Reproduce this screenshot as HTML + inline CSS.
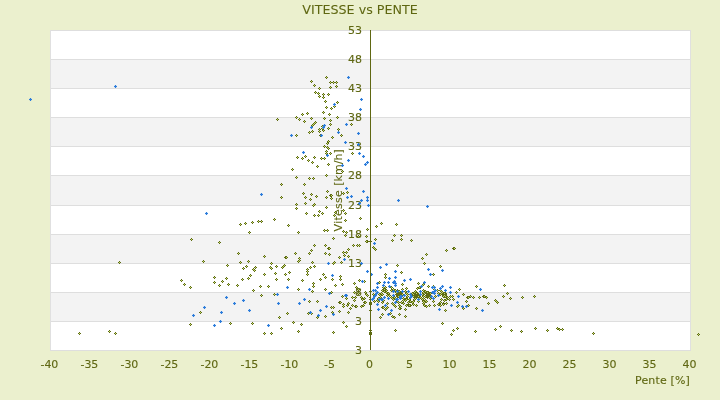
<!DOCTYPE html>
<html><head><meta charset="utf-8"><title>VITESSE vs PENTE</title>
<style>
html,body{margin:0;padding:0;background:#ebf0ce;}
body{width:720px;height:400px;overflow:hidden;}
svg{display:block;font-family:"DejaVu Sans","Liberation Sans",sans-serif;will-change:transform;}
.t{fill:#5f6712;stroke:#5f6712;stroke-width:.12px;}
</style></head><body>
<svg width="720" height="400" viewBox="0 0 720 400">
<defs>
<g id="o" shape-rendering="crispEdges"><path d="M-.5-1.5h1v1h1v1h-1v1h-1v-1h-1v-1h1z" fill="#5e6b12"/><rect x="-.5" y="-.5" width="1" height="1" fill="#c2d672"/></g>
<g id="b" shape-rendering="crispEdges"><path d="M-.5-1.5h1v1h1v1h-1v1h-1v-1h-1v-1h1z" fill="#2b7cdb"/><path d="M-1.5-1.5h1v1h-1zM.5-1.5h1v1h-1zM-1.5.5h1v1h-1zM.5.5h1v1h-1z" fill="#2b7cdb" fill-opacity=".12"/></g>
</defs>
<rect width="720" height="400" fill="#ebf0ce"/>

<rect x="50" y="30" width="641" height="321" fill="#ffffff"/>
<rect x="50" y="59" width="641" height="29" fill="#f3f3f3"/>
<rect x="50" y="117" width="641" height="29" fill="#f3f3f3"/>
<rect x="50" y="175" width="641" height="30" fill="#f3f3f3"/>
<rect x="50" y="234" width="641" height="29" fill="#f3f3f3"/>
<rect x="50" y="292" width="641" height="29" fill="#f3f3f3"/>
<rect x="50" y="30" width="641" height="1" fill="#dedede"/>
<rect x="50" y="59" width="641" height="1" fill="#dedede"/>
<rect x="50" y="88" width="641" height="1" fill="#dedede"/>
<rect x="50" y="117" width="641" height="1" fill="#dedede"/>
<rect x="50" y="146" width="641" height="1" fill="#dedede"/>
<rect x="50" y="175" width="641" height="1" fill="#dedede"/>
<rect x="50" y="205" width="641" height="1" fill="#dedede"/>
<rect x="50" y="234" width="641" height="1" fill="#dedede"/>
<rect x="50" y="263" width="641" height="1" fill="#dedede"/>
<rect x="50" y="292" width="641" height="1" fill="#dedede"/>
<rect x="50" y="321" width="641" height="1" fill="#dedede"/>
<rect x="50" y="350" width="641" height="1" fill="#dedede"/>
<rect x="50" y="30" width="1" height="320" fill="#e0e0e0"/>
<rect x="690" y="30" width="1" height="320" fill="#e0e0e0"/>
<g class="t" font-size="11" text-anchor="end">
<text x="362" y="34">53</text>
<text x="362" y="63">48</text>
<text x="362" y="92">43</text>
<text x="362" y="121">38</text>
<text x="362" y="150">33</text>
<text x="362" y="179">28</text>
<text x="362" y="209">23</text>
<text x="362" y="238">18</text>
<text x="362" y="267">13</text>
<text x="362" y="296">8</text>
<text x="362" y="325">3</text>
<text x="362" y="354">3</text>
</g>
<text class="t" font-size="11" transform="translate(342,231.4) rotate(-90)"><tspan x="0" textLength="41.3" lengthAdjust="spacing">Vitesse</tspan> <tspan x="45.6" textLength="36.6" lengthAdjust="spacing">[km/h]</tspan></text>
<g class="t" font-size="11" text-anchor="middle">
<text x="49.4" y="368">-40</text>
<text x="89.4" y="368">-35</text>
<text x="129.4" y="368">-30</text>
<text x="169.4" y="368">-25</text>
<text x="209.4" y="368">-20</text>
<text x="249.4" y="368">-15</text>
<text x="289.4" y="368">-10</text>
<text x="329.4" y="368">-5</text>
<text x="369.4" y="368">0</text>
<text x="409.4" y="368">5</text>
<text x="449.4" y="368">10</text>
<text x="489.4" y="368">15</text>
<text x="529.4" y="368">20</text>
<text x="569.4" y="368">25</text>
<text x="609.4" y="368">30</text>
<text x="649.4" y="368">35</text>
<text x="689.4" y="368">40</text>
</g>
<text class="t" font-size="11" text-anchor="end" textLength="54.8" lengthAdjust="spacing" x="689.8" y="384">Pente [%]</text>
<text class="t" style="stroke-width:.06px" font-size="12.7" text-anchor="middle" x="360" y="14">VITESSE vs PENTE</text>
<g>
<use href="#o" x="119.5" y="262.5"/>
<use href="#o" x="191.5" y="239.5"/>
<use href="#o" x="181.5" y="280.5"/>
<use href="#o" x="184.5" y="284.5"/>
<use href="#o" x="190.5" y="287.5"/>
<use href="#o" x="190.5" y="324.5"/>
<use href="#o" x="79.5" y="333.5"/>
<use href="#o" x="109.5" y="331.5"/>
<use href="#o" x="115.5" y="333.5"/>
<use href="#o" x="200.5" y="312.5"/>
<use href="#o" x="277.5" y="119.5"/>
<use href="#o" x="326.5" y="77.5"/>
<use href="#o" x="311.5" y="81.5"/>
<use href="#o" x="314.5" y="85.5"/>
<use href="#o" x="319.5" y="88.5"/>
<use href="#o" x="330.5" y="82.5"/>
<use href="#o" x="333.5" y="82.5"/>
<use href="#o" x="336.5" y="82.5"/>
<use href="#o" x="330.5" y="87.5"/>
<use href="#o" x="336.5" y="86.5"/>
<use href="#o" x="315.5" y="92.5"/>
<use href="#o" x="318.5" y="93.5"/>
<use href="#o" x="319.5" y="96.5"/>
<use href="#o" x="323.5" y="94.5"/>
<use href="#o" x="323.5" y="97.5"/>
<use href="#o" x="328.5" y="94.5"/>
<use href="#o" x="325.5" y="101.5"/>
<use href="#o" x="337.5" y="102.5"/>
<use href="#o" x="334.5" y="106.5"/>
<use href="#o" x="331.5" y="108.5"/>
<use href="#o" x="326.5" y="107.5"/>
<use href="#o" x="323.5" y="112.5"/>
<use href="#o" x="329.5" y="114.5"/>
<use href="#o" x="307.5" y="113.5"/>
<use href="#o" x="302.5" y="114.5"/>
<use href="#o" x="296.5" y="117.5"/>
<use href="#o" x="299.5" y="119.5"/>
<use href="#o" x="311.5" y="118.5"/>
<use href="#o" x="324.5" y="118.5"/>
<use href="#o" x="337.5" y="117.5"/>
<use href="#o" x="330.5" y="120.5"/>
<use href="#o" x="304.5" y="121.5"/>
<use href="#o" x="330.5" y="124.5"/>
<use href="#o" x="315.5" y="122.5"/>
<use href="#o" x="314.5" y="123.5"/>
<use href="#o" x="313.5" y="124.5"/>
<use href="#o" x="312.5" y="125.5"/>
<use href="#o" x="351.5" y="124.5"/>
<use href="#o" x="328.5" y="128.5"/>
<use href="#o" x="322.5" y="126.5"/>
<use href="#o" x="322.5" y="128.5"/>
<use href="#o" x="319.5" y="129.5"/>
<use href="#o" x="323.5" y="130.5"/>
<use href="#o" x="319.5" y="131.5"/>
<use href="#o" x="312.5" y="131.5"/>
<use href="#o" x="309.5" y="132.5"/>
<use href="#o" x="338.5" y="129.5"/>
<use href="#o" x="296.5" y="135.5"/>
<use href="#o" x="320.5" y="135.5"/>
<use href="#o" x="341.5" y="135.5"/>
<use href="#o" x="332.5" y="137.5"/>
<use href="#o" x="328.5" y="141.5"/>
<use href="#o" x="327.5" y="143.5"/>
<use href="#o" x="324.5" y="146.5"/>
<use href="#o" x="327.5" y="147.5"/>
<use href="#o" x="328.5" y="148.5"/>
<use href="#o" x="326.5" y="151.5"/>
<use href="#o" x="326.5" y="153.5"/>
<use href="#o" x="330.5" y="153.5"/>
<use href="#o" x="352.5" y="153.5"/>
<use href="#o" x="297.5" y="157.5"/>
<use href="#o" x="302.5" y="158.5"/>
<use href="#o" x="305.5" y="156.5"/>
<use href="#o" x="308.5" y="160.5"/>
<use href="#o" x="312.5" y="162.5"/>
<use href="#o" x="314.5" y="157.5"/>
<use href="#o" x="321.5" y="158.5"/>
<use href="#o" x="324.5" y="158.5"/>
<use href="#o" x="328.5" y="164.5"/>
<use href="#o" x="317.5" y="166.5"/>
<use href="#o" x="292.5" y="169.5"/>
<use href="#o" x="342.5" y="171.5"/>
<use href="#o" x="326.5" y="175.5"/>
<use href="#o" x="296.5" y="177.5"/>
<use href="#o" x="309.5" y="178.5"/>
<use href="#o" x="313.5" y="178.5"/>
<use href="#o" x="281.5" y="184.5"/>
<use href="#o" x="304.5" y="184.5"/>
<use href="#o" x="327.5" y="191.5"/>
<use href="#o" x="303.5" y="193.5"/>
<use href="#o" x="311.5" y="194.5"/>
<use href="#o" x="343.5" y="193.5"/>
<use href="#o" x="347.5" y="192.5"/>
<use href="#o" x="281.5" y="197.5"/>
<use href="#o" x="305.5" y="197.5"/>
<use href="#o" x="316.5" y="196.5"/>
<use href="#o" x="326.5" y="197.5"/>
<use href="#o" x="330.5" y="195.5"/>
<use href="#o" x="331.5" y="195.5"/>
<use href="#o" x="331.5" y="198.5"/>
<use href="#o" x="310.5" y="199.5"/>
<use href="#o" x="305.5" y="203.5"/>
<use href="#o" x="296.5" y="204.5"/>
<use href="#o" x="314.5" y="204.5"/>
<use href="#o" x="313.5" y="205.5"/>
<use href="#o" x="296.5" y="208.5"/>
<use href="#o" x="326.5" y="207.5"/>
<use href="#o" x="343.5" y="210.5"/>
<use href="#o" x="306.5" y="213.5"/>
<use href="#o" x="319.5" y="211.5"/>
<use href="#o" x="322.5" y="213.5"/>
<use href="#o" x="314.5" y="215.5"/>
<use href="#o" x="318.5" y="215.5"/>
<use href="#o" x="335.5" y="212.5"/>
<use href="#o" x="334.5" y="215.5"/>
<use href="#o" x="345.5" y="213.5"/>
<use href="#o" x="345.5" y="220.5"/>
<use href="#o" x="360.5" y="218.5"/>
<use href="#o" x="288.5" y="225.5"/>
<use href="#o" x="298.5" y="232.5"/>
<use href="#o" x="324.5" y="230.5"/>
<use href="#o" x="327.5" y="230.5"/>
<use href="#o" x="343.5" y="231.5"/>
<use href="#o" x="346.5" y="232.5"/>
<use href="#o" x="345.5" y="235.5"/>
<use href="#o" x="367.5" y="229.5"/>
<use href="#o" x="366.5" y="236.5"/>
<use href="#o" x="358.5" y="236.5"/>
<use href="#o" x="333.5" y="238.5"/>
<use href="#o" x="367.5" y="241.5"/>
<use href="#o" x="366.5" y="241.5"/>
<use href="#o" x="314.5" y="245.5"/>
<use href="#o" x="325.5" y="245.5"/>
<use href="#o" x="328.5" y="248.5"/>
<use href="#o" x="329.5" y="248.5"/>
<use href="#o" x="353.5" y="245.5"/>
<use href="#o" x="357.5" y="245.5"/>
<use href="#o" x="359.5" y="245.5"/>
<use href="#o" x="348.5" y="249.5"/>
<use href="#o" x="311.5" y="250.5"/>
<use href="#o" x="309.5" y="253.5"/>
<use href="#o" x="295.5" y="253.5"/>
<use href="#o" x="325.5" y="253.5"/>
<use href="#o" x="329.5" y="254.5"/>
<use href="#o" x="343.5" y="252.5"/>
<use href="#o" x="346.5" y="252.5"/>
<use href="#o" x="344.5" y="255.5"/>
<use href="#o" x="348.5" y="256.5"/>
<use href="#o" x="339.5" y="257.5"/>
<use href="#o" x="285.5" y="257.5"/>
<use href="#o" x="286.5" y="257.5"/>
<use href="#o" x="299.5" y="258.5"/>
<use href="#o" x="299.5" y="260.5"/>
<use href="#o" x="298.5" y="261.5"/>
<use href="#o" x="312.5" y="262.5"/>
<use href="#o" x="334.5" y="262.5"/>
<use href="#o" x="333.5" y="263.5"/>
<use href="#o" x="341.5" y="262.5"/>
<use href="#o" x="284.5" y="265.5"/>
<use href="#o" x="283.5" y="266.5"/>
<use href="#o" x="282.5" y="267.5"/>
<use href="#o" x="314.5" y="266.5"/>
<use href="#o" x="310.5" y="267.5"/>
<use href="#o" x="307.5" y="269.5"/>
<use href="#o" x="307.5" y="271.5"/>
<use href="#o" x="307.5" y="274.5"/>
<use href="#o" x="289.5" y="272.5"/>
<use href="#o" x="285.5" y="274.5"/>
<use href="#o" x="323.5" y="274.5"/>
<use href="#o" x="325.5" y="277.5"/>
<use href="#o" x="320.5" y="279.5"/>
<use href="#o" x="288.5" y="279.5"/>
<use href="#o" x="302.5" y="280.5"/>
<use href="#o" x="332.5" y="279.5"/>
<use href="#o" x="340.5" y="276.5"/>
<use href="#o" x="340.5" y="279.5"/>
<use href="#o" x="359.5" y="280.5"/>
<use href="#o" x="364.5" y="281.5"/>
<use href="#o" x="354.5" y="283.5"/>
<use href="#o" x="342.5" y="284.5"/>
<use href="#o" x="335.5" y="285.5"/>
<use href="#o" x="313.5" y="283.5"/>
<use href="#o" x="313.5" y="286.5"/>
<use href="#o" x="356.5" y="287.5"/>
<use href="#o" x="298.5" y="289.5"/>
<use href="#o" x="312.5" y="291.5"/>
<use href="#o" x="325.5" y="289.5"/>
<use href="#o" x="331.5" y="292.5"/>
<use href="#o" x="358.5" y="289.5"/>
<use href="#o" x="358.5" y="293.5"/>
<use href="#o" x="354.5" y="292.5"/>
<use href="#o" x="365.5" y="292.5"/>
<use href="#o" x="366.5" y="294.5"/>
<use href="#o" x="342.5" y="296.5"/>
<use href="#o" x="352.5" y="297.5"/>
<use href="#o" x="355.5" y="297.5"/>
<use href="#o" x="361.5" y="297.5"/>
<use href="#o" x="346.5" y="298.5"/>
<use href="#o" x="364.5" y="298.5"/>
<use href="#o" x="354.5" y="300.5"/>
<use href="#o" x="362.5" y="299.5"/>
<use href="#o" x="309.5" y="301.5"/>
<use href="#o" x="317.5" y="301.5"/>
<use href="#o" x="339.5" y="302.5"/>
<use href="#o" x="340.5" y="302.5"/>
<use href="#o" x="343.5" y="304.5"/>
<use href="#o" x="343.5" y="306.5"/>
<use href="#o" x="348.5" y="303.5"/>
<use href="#o" x="347.5" y="305.5"/>
<use href="#o" x="352.5" y="305.5"/>
<use href="#o" x="355.5" y="306.5"/>
<use href="#o" x="356.5" y="306.5"/>
<use href="#o" x="361.5" y="306.5"/>
<use href="#o" x="363.5" y="305.5"/>
<use href="#o" x="364.5" y="302.5"/>
<use href="#o" x="365.5" y="302.5"/>
<use href="#o" x="331.5" y="307.5"/>
<use href="#o" x="333.5" y="307.5"/>
<use href="#o" x="350.5" y="308.5"/>
<use href="#o" x="339.5" y="311.5"/>
<use href="#o" x="348.5" y="312.5"/>
<use href="#o" x="287.5" y="313.5"/>
<use href="#o" x="308.5" y="313.5"/>
<use href="#o" x="311.5" y="313.5"/>
<use href="#o" x="332.5" y="312.5"/>
<use href="#o" x="325.5" y="316.5"/>
<use href="#o" x="317.5" y="317.5"/>
<use href="#o" x="279.5" y="317.5"/>
<use href="#o" x="293.5" y="322.5"/>
<use href="#o" x="301.5" y="324.5"/>
<use href="#o" x="281.5" y="328.5"/>
<use href="#o" x="298.5" y="331.5"/>
<use href="#o" x="333.5" y="332.5"/>
<use href="#o" x="343.5" y="322.5"/>
<use href="#o" x="346.5" y="326.5"/>
<use href="#o" x="230.5" y="323.5"/>
<use href="#o" x="252.5" y="323.5"/>
<use href="#o" x="264.5" y="333.5"/>
<use href="#o" x="271.5" y="333.5"/>
<use href="#o" x="274.5" y="219.5"/>
<use href="#o" x="240.5" y="224.5"/>
<use href="#o" x="245.5" y="223.5"/>
<use href="#o" x="252.5" y="222.5"/>
<use href="#o" x="258.5" y="221.5"/>
<use href="#o" x="261.5" y="221.5"/>
<use href="#o" x="249.5" y="232.5"/>
<use href="#o" x="219.5" y="242.5"/>
<use href="#o" x="238.5" y="253.5"/>
<use href="#o" x="264.5" y="256.5"/>
<use href="#o" x="203.5" y="261.5"/>
<use href="#o" x="240.5" y="262.5"/>
<use href="#o" x="248.5" y="261.5"/>
<use href="#o" x="271.5" y="263.5"/>
<use href="#o" x="227.5" y="265.5"/>
<use href="#o" x="246.5" y="266.5"/>
<use href="#o" x="243.5" y="268.5"/>
<use href="#o" x="255.5" y="267.5"/>
<use href="#o" x="253.5" y="269.5"/>
<use href="#o" x="254.5" y="270.5"/>
<use href="#o" x="270.5" y="267.5"/>
<use href="#o" x="271.5" y="268.5"/>
<use href="#o" x="276.5" y="266.5"/>
<use href="#o" x="275.5" y="273.5"/>
<use href="#o" x="264.5" y="274.5"/>
<use href="#o" x="250.5" y="275.5"/>
<use href="#o" x="214.5" y="277.5"/>
<use href="#o" x="226.5" y="278.5"/>
<use href="#o" x="248.5" y="278.5"/>
<use href="#o" x="242.5" y="279.5"/>
<use href="#o" x="276.5" y="279.5"/>
<use href="#o" x="222.5" y="281.5"/>
<use href="#o" x="214.5" y="282.5"/>
<use href="#o" x="228.5" y="284.5"/>
<use href="#o" x="219.5" y="285.5"/>
<use href="#o" x="237.5" y="285.5"/>
<use href="#o" x="260.5" y="286.5"/>
<use href="#o" x="268.5" y="286.5"/>
<use href="#o" x="253.5" y="290.5"/>
<use href="#o" x="261.5" y="295.5"/>
<use href="#o" x="274.5" y="294.5"/>
<use href="#o" x="376.5" y="226.5"/>
<use href="#o" x="381.5" y="223.5"/>
<use href="#o" x="396.5" y="224.5"/>
<use href="#o" x="375.5" y="239.5"/>
<use href="#o" x="394.5" y="235.5"/>
<use href="#o" x="401.5" y="235.5"/>
<use href="#o" x="392.5" y="240.5"/>
<use href="#o" x="401.5" y="239.5"/>
<use href="#o" x="411.5" y="240.5"/>
<use href="#o" x="373.5" y="247.5"/>
<use href="#o" x="374.5" y="248.5"/>
<use href="#o" x="375.5" y="249.5"/>
<use href="#o" x="446.5" y="250.5"/>
<use href="#o" x="453.5" y="248.5"/>
<use href="#o" x="454.5" y="248.5"/>
<use href="#o" x="426.5" y="254.5"/>
<use href="#o" x="422.5" y="258.5"/>
<use href="#o" x="424.5" y="263.5"/>
<use href="#o" x="397.5" y="265.5"/>
<use href="#o" x="440.5" y="266.5"/>
<use href="#o" x="401.5" y="272.5"/>
<use href="#o" x="385.5" y="274.5"/>
<use href="#o" x="385.5" y="277.5"/>
<use href="#o" x="433.5" y="274.5"/>
<use href="#o" x="370.5" y="241.5"/>
<use href="#o" x="370.5" y="291.5"/>
<use href="#o" x="370.5" y="299.5"/>
<use href="#o" x="370.5" y="303.5"/>
<use href="#o" x="370.5" y="310.5"/>
<use href="#o" x="370.5" y="330.5"/>
<use href="#o" x="366.5" y="294.5"/>
<use href="#o" x="367.5" y="295.5"/>
<use href="#o" x="373.5" y="294.5"/>
<use href="#o" x="376.5" y="291.5"/>
<use href="#o" x="379.5" y="294.5"/>
<use href="#o" x="380.5" y="295.5"/>
<use href="#o" x="381.5" y="293.5"/>
<use href="#o" x="382.5" y="294.5"/>
<use href="#o" x="380.5" y="297.5"/>
<use href="#o" x="378.5" y="298.5"/>
<use href="#o" x="377.5" y="300.5"/>
<use href="#o" x="378.5" y="301.5"/>
<use href="#o" x="374.5" y="301.5"/>
<use href="#o" x="382.5" y="302.5"/>
<use href="#o" x="383.5" y="300.5"/>
<use href="#o" x="383.5" y="287.5"/>
<use href="#o" x="384.5" y="289.5"/>
<use href="#o" x="382.5" y="290.5"/>
<use href="#o" x="384.5" y="291.5"/>
<use href="#o" x="386.5" y="290.5"/>
<use href="#o" x="385.5" y="287.5"/>
<use href="#o" x="386.5" y="292.5"/>
<use href="#o" x="388.5" y="293.5"/>
<use href="#o" x="387.5" y="295.5"/>
<use href="#o" x="389.5" y="295.5"/>
<use href="#o" x="391.5" y="287.5"/>
<use href="#o" x="391.5" y="290.5"/>
<use href="#o" x="393.5" y="289.5"/>
<use href="#o" x="391.5" y="297.5"/>
<use href="#o" x="392.5" y="298.5"/>
<use href="#o" x="393.5" y="299.5"/>
<use href="#o" x="394.5" y="297.5"/>
<use href="#o" x="395.5" y="298.5"/>
<use href="#o" x="387.5" y="303.5"/>
<use href="#o" x="392.5" y="303.5"/>
<use href="#o" x="395.5" y="290.5"/>
<use href="#o" x="379.5" y="282.5"/>
<use href="#o" x="402.5" y="284.5"/>
<use href="#o" x="423.5" y="284.5"/>
<use href="#o" x="422.5" y="285.5"/>
<use href="#o" x="406.5" y="288.5"/>
<use href="#o" x="402.5" y="289.5"/>
<use href="#o" x="417.5" y="288.5"/>
<use href="#o" x="420.5" y="287.5"/>
<use href="#o" x="419.5" y="287.5"/>
<use href="#o" x="397.5" y="290.5"/>
<use href="#o" x="399.5" y="291.5"/>
<use href="#o" x="396.5" y="292.5"/>
<use href="#o" x="398.5" y="293.5"/>
<use href="#o" x="405.5" y="291.5"/>
<use href="#o" x="406.5" y="293.5"/>
<use href="#o" x="402.5" y="294.5"/>
<use href="#o" x="397.5" y="296.5"/>
<use href="#o" x="399.5" y="297.5"/>
<use href="#o" x="403.5" y="298.5"/>
<use href="#o" x="405.5" y="299.5"/>
<use href="#o" x="403.5" y="300.5"/>
<use href="#o" x="406.5" y="298.5"/>
<use href="#o" x="407.5" y="296.5"/>
<use href="#o" x="407.5" y="294.5"/>
<use href="#o" x="409.5" y="299.5"/>
<use href="#o" x="410.5" y="301.5"/>
<use href="#o" x="408.5" y="302.5"/>
<use href="#o" x="412.5" y="302.5"/>
<use href="#o" x="413.5" y="301.5"/>
<use href="#o" x="411.5" y="295.5"/>
<use href="#o" x="412.5" y="293.5"/>
<use href="#o" x="413.5" y="294.5"/>
<use href="#o" x="413.5" y="296.5"/>
<use href="#o" x="414.5" y="292.5"/>
<use href="#o" x="415.5" y="291.5"/>
<use href="#o" x="416.5" y="293.5"/>
<use href="#o" x="418.5" y="296.5"/>
<use href="#o" x="415.5" y="298.5"/>
<use href="#o" x="419.5" y="298.5"/>
<use href="#o" x="420.5" y="297.5"/>
<use href="#o" x="422.5" y="294.5"/>
<use href="#o" x="423.5" y="292.5"/>
<use href="#o" x="424.5" y="293.5"/>
<use href="#o" x="423.5" y="290.5"/>
<use href="#o" x="425.5" y="291.5"/>
<use href="#o" x="423.5" y="296.5"/>
<use href="#o" x="423.5" y="298.5"/>
<use href="#o" x="421.5" y="298.5"/>
<use href="#o" x="422.5" y="299.5"/>
<use href="#o" x="425.5" y="296.5"/>
<use href="#o" x="423.5" y="301.5"/>
<use href="#o" x="424.5" y="302.5"/>
<use href="#o" x="425.5" y="300.5"/>
<use href="#o" x="397.5" y="301.5"/>
<use href="#o" x="398.5" y="302.5"/>
<use href="#o" x="401.5" y="302.5"/>
<use href="#o" x="403.5" y="303.5"/>
<use href="#o" x="396.5" y="299.5"/>
<use href="#o" x="418.5" y="301.5"/>
<use href="#o" x="418.5" y="283.5"/>
<use href="#o" x="428.5" y="286.5"/>
<use href="#o" x="433.5" y="286.5"/>
<use href="#o" x="434.5" y="289.5"/>
<use href="#o" x="437.5" y="290.5"/>
<use href="#o" x="440.5" y="290.5"/>
<use href="#o" x="441.5" y="291.5"/>
<use href="#o" x="442.5" y="292.5"/>
<use href="#o" x="445.5" y="293.5"/>
<use href="#o" x="427.5" y="292.5"/>
<use href="#o" x="428.5" y="294.5"/>
<use href="#o" x="427.5" y="295.5"/>
<use href="#o" x="430.5" y="293.5"/>
<use href="#o" x="429.5" y="297.5"/>
<use href="#o" x="430.5" y="298.5"/>
<use href="#o" x="438.5" y="293.5"/>
<use href="#o" x="440.5" y="294.5"/>
<use href="#o" x="435.5" y="296.5"/>
<use href="#o" x="444.5" y="295.5"/>
<use href="#o" x="443.5" y="296.5"/>
<use href="#o" x="445.5" y="296.5"/>
<use href="#o" x="447.5" y="297.5"/>
<use href="#o" x="450.5" y="296.5"/>
<use href="#o" x="452.5" y="296.5"/>
<use href="#o" x="441.5" y="299.5"/>
<use href="#o" x="444.5" y="300.5"/>
<use href="#o" x="446.5" y="299.5"/>
<use href="#o" x="449.5" y="299.5"/>
<use href="#o" x="453.5" y="299.5"/>
<use href="#o" x="426.5" y="301.5"/>
<use href="#o" x="433.5" y="301.5"/>
<use href="#o" x="440.5" y="302.5"/>
<use href="#o" x="446.5" y="303.5"/>
<use href="#o" x="443.5" y="303.5"/>
<use href="#o" x="426.5" y="293.5"/>
<use href="#o" x="427.5" y="294.5"/>
<use href="#o" x="426.5" y="295.5"/>
<use href="#o" x="428.5" y="296.5"/>
<use href="#o" x="427.5" y="297.5"/>
<use href="#o" x="428.5" y="293.5"/>
<use href="#o" x="429.5" y="295.5"/>
<use href="#o" x="442.5" y="294.5"/>
<use href="#o" x="443.5" y="294.5"/>
<use href="#o" x="444.5" y="293.5"/>
<use href="#o" x="441.5" y="293.5"/>
<use href="#o" x="476.5" y="286.5"/>
<use href="#o" x="504.5" y="285.5"/>
<use href="#o" x="459.5" y="289.5"/>
<use href="#o" x="456.5" y="292.5"/>
<use href="#o" x="463.5" y="294.5"/>
<use href="#o" x="507.5" y="293.5"/>
<use href="#o" x="467.5" y="297.5"/>
<use href="#o" x="468.5" y="297.5"/>
<use href="#o" x="470.5" y="296.5"/>
<use href="#o" x="473.5" y="297.5"/>
<use href="#o" x="479.5" y="297.5"/>
<use href="#o" x="483.5" y="296.5"/>
<use href="#o" x="484.5" y="296.5"/>
<use href="#o" x="486.5" y="297.5"/>
<use href="#o" x="503.5" y="296.5"/>
<use href="#o" x="510.5" y="298.5"/>
<use href="#o" x="522.5" y="297.5"/>
<use href="#o" x="534.5" y="296.5"/>
<use href="#o" x="466.5" y="301.5"/>
<use href="#o" x="495.5" y="300.5"/>
<use href="#o" x="496.5" y="301.5"/>
<use href="#o" x="497.5" y="302.5"/>
<use href="#o" x="488.5" y="303.5"/>
<use href="#o" x="458.5" y="305.5"/>
<use href="#o" x="457.5" y="306.5"/>
<use href="#o" x="468.5" y="305.5"/>
<use href="#o" x="463.5" y="308.5"/>
<use href="#o" x="476.5" y="308.5"/>
<use href="#o" x="382.5" y="307.5"/>
<use href="#o" x="383.5" y="307.5"/>
<use href="#o" x="387.5" y="307.5"/>
<use href="#o" x="385.5" y="309.5"/>
<use href="#o" x="400.5" y="306.5"/>
<use href="#o" x="400.5" y="308.5"/>
<use href="#o" x="405.5" y="309.5"/>
<use href="#o" x="406.5" y="305.5"/>
<use href="#o" x="408.5" y="304.5"/>
<use href="#o" x="410.5" y="305.5"/>
<use href="#o" x="416.5" y="305.5"/>
<use href="#o" x="426.5" y="306.5"/>
<use href="#o" x="429.5" y="305.5"/>
<use href="#o" x="434.5" y="305.5"/>
<use href="#o" x="439.5" y="304.5"/>
<use href="#o" x="443.5" y="304.5"/>
<use href="#o" x="445.5" y="310.5"/>
<use href="#o" x="382.5" y="314.5"/>
<use href="#o" x="380.5" y="317.5"/>
<use href="#o" x="390.5" y="313.5"/>
<use href="#o" x="392.5" y="316.5"/>
<use href="#o" x="394.5" y="317.5"/>
<use href="#o" x="399.5" y="314.5"/>
<use href="#o" x="405.5" y="316.5"/>
<use href="#o" x="442.5" y="323.5"/>
<use href="#o" x="395.5" y="330.5"/>
<use href="#o" x="453.5" y="330.5"/>
<use href="#o" x="451.5" y="334.5"/>
<use href="#o" x="457.5" y="328.5"/>
<use href="#o" x="475.5" y="331.5"/>
<use href="#o" x="495.5" y="329.5"/>
<use href="#o" x="500.5" y="326.5"/>
<use href="#o" x="511.5" y="330.5"/>
<use href="#o" x="521.5" y="331.5"/>
<use href="#o" x="535.5" y="328.5"/>
<use href="#o" x="547.5" y="330.5"/>
<use href="#o" x="557.5" y="328.5"/>
<use href="#o" x="559.5" y="329.5"/>
<use href="#o" x="562.5" y="329.5"/>
<use href="#o" x="593.5" y="333.5"/>
<use href="#o" x="698.5" y="334.5"/>
<use href="#o" x="393.5" y="304.5"/>
<use href="#o" x="394.5" y="305.5"/>
<use href="#o" x="395.5" y="306.5"/>
<use href="#o" x="399.5" y="305.5"/>
<use href="#o" x="399.5" y="308.5"/>
<use href="#o" x="386.5" y="308.5"/>
<use href="#o" x="405.5" y="300.5"/>
<use href="#o" x="406.5" y="299.5"/>
<use href="#o" x="401.5" y="302.5"/>
<use href="#o" x="403.5" y="303.5"/>
<use href="#o" x="408.5" y="305.5"/>
<use href="#o" x="409.5" y="305.5"/>
<use href="#o" x="413.5" y="304.5"/>
<use href="#o" x="423.5" y="303.5"/>
<use href="#o" x="424.5" y="305.5"/>
<use href="#o" x="426.5" y="301.5"/>
<use href="#o" x="414.5" y="299.5"/>
<use href="#o" x="438.5" y="304.5"/>
<use href="#o" x="440.5" y="305.5"/>
<use href="#o" x="397.5" y="293.5"/>
<use href="#o" x="398.5" y="294.5"/>
<use href="#o" x="399.5" y="295.5"/>
<use href="#o" x="400.5" y="293.5"/>
<use href="#o" x="401.5" y="295.5"/>
<use href="#o" x="398.5" y="296.5"/>
<use href="#o" x="396.5" y="294.5"/>
<use href="#o" x="400.5" y="294.5"/>
<path shape-rendering="crispEdges" fill="#5e6b12" d="M396 293h1v1h-1zM396 294h1v1h-1zM396 295h1v1h-1zM397 292h1v1h-1zM397 293h1v1h-1zM397 294h1v1h-1zM397 295h1v1h-1zM398 292h1v1h-1zM398 294h1v1h-1zM398 295h1v1h-1zM399 292h1v1h-1zM399 293h1v1h-1zM399 294h1v1h-1zM399 295h1v1h-1zM400 292h1v1h-1zM400 293h1v1h-1zM400 294h1v1h-1zM400 295h1v1h-1zM401 292h1v1h-1zM401 293h1v1h-1zM401 294h1v1h-1zM401 295h1v1h-1zM411 294h1v1h-1zM412 294h1v1h-1zM412 295h1v1h-1zM413 292h1v1h-1zM413 293h1v1h-1zM413 295h1v1h-1zM414 291h1v1h-1zM414 293h1v1h-1zM414 294h1v1h-1zM414 295h1v1h-1zM414 296h1v1h-1zM414 297h1v1h-1zM415 290h1v1h-1zM415 292h1v1h-1zM415 293h1v1h-1zM415 294h1v1h-1zM415 295h1v1h-1zM415 296h1v1h-1zM415 297h1v1h-1zM416 291h1v1h-1zM416 292h1v1h-1zM416 294h1v1h-1zM416 295h1v1h-1zM416 296h1v1h-1zM416 297h1v1h-1zM416 298h1v1h-1zM417 292h1v1h-1zM417 293h1v1h-1zM417 294h1v1h-1zM417 295h1v1h-1zM417 296h1v1h-1zM417 297h1v1h-1zM418 293h1v1h-1zM418 294h1v1h-1zM418 295h1v1h-1zM419 294h1v1h-1zM419 295h1v1h-1zM426 291h1v1h-1zM426 292h1v1h-1zM426 293h1v1h-1zM426 294h1v1h-1zM426 295h1v1h-1zM426 296h1v1h-1zM426 297h1v1h-1zM427 291h1v1h-1zM427 293h1v1h-1zM427 294h1v1h-1zM427 296h1v1h-1zM427 297h1v1h-1zM428 291h1v1h-1zM428 292h1v1h-1zM428 293h1v1h-1zM428 295h1v1h-1zM428 296h1v1h-1zM428 297h1v1h-1zM429 292h1v1h-1zM429 293h1v1h-1zM429 294h1v1h-1zM429 295h1v1h-1zM429 296h1v1h-1zM430 292h1v1h-1zM430 294h1v1h-1zM430 295h1v1h-1zM442 295h1v1h-1zM442 296h1v1h-1zM443 294h1v1h-1zM443 295h1v1h-1zM443 297h1v1h-1zM444 294h1v1h-1zM444 296h1v1h-1zM444 297h1v1h-1zM445 294h1v1h-1zM445 295h1v1h-1zM445 297h1v1h-1zM446 294h1v1h-1zM446 295h1v1h-1zM446 296h1v1h-1zM446 297h1v1h-1z"/>
<use href="#b" x="30.5" y="99.5"/>
<use href="#b" x="115.5" y="86.5"/>
<use href="#b" x="193.5" y="315.5"/>
<use href="#b" x="348.5" y="77.5"/>
<use href="#b" x="334.5" y="104.5"/>
<use href="#b" x="361.5" y="99.5"/>
<use href="#b" x="360.5" y="109.5"/>
<use href="#b" x="311.5" y="127.5"/>
<use href="#b" x="324.5" y="125.5"/>
<use href="#b" x="323.5" y="127.5"/>
<use href="#b" x="291.5" y="135.5"/>
<use href="#b" x="321.5" y="135.5"/>
<use href="#b" x="346.5" y="124.5"/>
<use href="#b" x="338.5" y="132.5"/>
<use href="#b" x="358.5" y="133.5"/>
<use href="#b" x="345.5" y="142.5"/>
<use href="#b" x="358.5" y="144.5"/>
<use href="#b" x="303.5" y="152.5"/>
<use href="#b" x="327.5" y="155.5"/>
<use href="#b" x="359.5" y="153.5"/>
<use href="#b" x="363.5" y="156.5"/>
<use href="#b" x="348.5" y="160.5"/>
<use href="#b" x="367.5" y="162.5"/>
<use href="#b" x="365.5" y="164.5"/>
<use href="#b" x="342.5" y="165.5"/>
<use href="#b" x="346.5" y="188.5"/>
<use href="#b" x="363.5" y="191.5"/>
<use href="#b" x="347.5" y="197.5"/>
<use href="#b" x="351.5" y="196.5"/>
<use href="#b" x="367.5" y="197.5"/>
<use href="#b" x="367.5" y="200.5"/>
<use href="#b" x="361.5" y="200.5"/>
<use href="#b" x="359.5" y="203.5"/>
<use href="#b" x="368.5" y="205.5"/>
<use href="#b" x="344.5" y="259.5"/>
<use href="#b" x="328.5" y="263.5"/>
<use href="#b" x="361.5" y="263.5"/>
<use href="#b" x="367.5" y="271.5"/>
<use href="#b" x="332.5" y="275.5"/>
<use href="#b" x="362.5" y="281.5"/>
<use href="#b" x="287.5" y="287.5"/>
<use href="#b" x="309.5" y="289.5"/>
<use href="#b" x="329.5" y="293.5"/>
<use href="#b" x="345.5" y="295.5"/>
<use href="#b" x="346.5" y="295.5"/>
<use href="#b" x="304.5" y="299.5"/>
<use href="#b" x="299.5" y="303.5"/>
<use href="#b" x="326.5" y="306.5"/>
<use href="#b" x="320.5" y="310.5"/>
<use href="#b" x="310.5" y="312.5"/>
<use href="#b" x="318.5" y="315.5"/>
<use href="#b" x="333.5" y="314.5"/>
<use href="#b" x="214.5" y="325.5"/>
<use href="#b" x="220.5" y="321.5"/>
<use href="#b" x="221.5" y="312.5"/>
<use href="#b" x="268.5" y="325.5"/>
<use href="#b" x="249.5" y="310.5"/>
<use href="#b" x="261.5" y="194.5"/>
<use href="#b" x="206.5" y="213.5"/>
<use href="#b" x="277.5" y="294.5"/>
<use href="#b" x="226.5" y="297.5"/>
<use href="#b" x="243.5" y="300.5"/>
<use href="#b" x="234.5" y="303.5"/>
<use href="#b" x="278.5" y="303.5"/>
<use href="#b" x="204.5" y="307.5"/>
<use href="#b" x="398.5" y="200.5"/>
<use href="#b" x="427.5" y="206.5"/>
<use href="#b" x="374.5" y="243.5"/>
<use href="#b" x="386.5" y="264.5"/>
<use href="#b" x="380.5" y="267.5"/>
<use href="#b" x="371.5" y="274.5"/>
<use href="#b" x="395.5" y="271.5"/>
<use href="#b" x="395.5" y="277.5"/>
<use href="#b" x="389.5" y="278.5"/>
<use href="#b" x="428.5" y="269.5"/>
<use href="#b" x="442.5" y="270.5"/>
<use href="#b" x="430.5" y="274.5"/>
<use href="#b" x="410.5" y="279.5"/>
<use href="#b" x="404.5" y="280.5"/>
<use href="#b" x="384.5" y="282.5"/>
<use href="#b" x="388.5" y="282.5"/>
<use href="#b" x="377.5" y="283.5"/>
<use href="#b" x="394.5" y="281.5"/>
<use href="#b" x="393.5" y="282.5"/>
<use href="#b" x="395.5" y="283.5"/>
<use href="#b" x="395.5" y="285.5"/>
<use href="#b" x="383.5" y="285.5"/>
<use href="#b" x="389.5" y="286.5"/>
<use href="#b" x="377.5" y="287.5"/>
<use href="#b" x="373.5" y="290.5"/>
<use href="#b" x="375.5" y="290.5"/>
<use href="#b" x="393.5" y="291.5"/>
<use href="#b" x="397.5" y="291.5"/>
<use href="#b" x="402.5" y="291.5"/>
<use href="#b" x="408.5" y="291.5"/>
<use href="#b" x="377.5" y="292.5"/>
<use href="#b" x="376.5" y="293.5"/>
<use href="#b" x="424.5" y="282.5"/>
<use href="#b" x="421.5" y="286.5"/>
<use href="#b" x="420.5" y="291.5"/>
<use href="#b" x="410.5" y="294.5"/>
<use href="#b" x="404.5" y="295.5"/>
<use href="#b" x="393.5" y="295.5"/>
<use href="#b" x="400.5" y="296.5"/>
<use href="#b" x="400.5" y="298.5"/>
<use href="#b" x="420.5" y="294.5"/>
<use href="#b" x="375.5" y="295.5"/>
<use href="#b" x="374.5" y="296.5"/>
<use href="#b" x="373.5" y="298.5"/>
<use href="#b" x="372.5" y="299.5"/>
<use href="#b" x="384.5" y="297.5"/>
<use href="#b" x="388.5" y="298.5"/>
<use href="#b" x="382.5" y="299.5"/>
<use href="#b" x="379.5" y="299.5"/>
<use href="#b" x="381.5" y="299.5"/>
<use href="#b" x="410.5" y="297.5"/>
<use href="#b" x="411.5" y="296.5"/>
<use href="#b" x="418.5" y="299.5"/>
<use href="#b" x="395.5" y="302.5"/>
<use href="#b" x="377.5" y="304.5"/>
<use href="#b" x="396.5" y="299.5"/>
<use href="#b" x="401.5" y="296.5"/>
<use href="#b" x="400.5" y="297.5"/>
<use href="#b" x="397.5" y="299.5"/>
<use href="#b" x="432.5" y="287.5"/>
<use href="#b" x="434.5" y="287.5"/>
<use href="#b" x="442.5" y="286.5"/>
<use href="#b" x="440.5" y="288.5"/>
<use href="#b" x="450.5" y="287.5"/>
<use href="#b" x="445.5" y="290.5"/>
<use href="#b" x="450.5" y="292.5"/>
<use href="#b" x="432.5" y="292.5"/>
<use href="#b" x="434.5" y="291.5"/>
<use href="#b" x="435.5" y="290.5"/>
<use href="#b" x="434.5" y="293.5"/>
<use href="#b" x="438.5" y="295.5"/>
<use href="#b" x="431.5" y="296.5"/>
<use href="#b" x="433.5" y="298.5"/>
<use href="#b" x="451.5" y="305.5"/>
<use href="#b" x="480.5" y="289.5"/>
<use href="#b" x="458.5" y="296.5"/>
<use href="#b" x="457.5" y="302.5"/>
<use href="#b" x="462.5" y="306.5"/>
<use href="#b" x="466.5" y="306.5"/>
<use href="#b" x="482.5" y="310.5"/>
<use href="#b" x="385.5" y="305.5"/>
<use href="#b" x="378.5" y="309.5"/>
<use href="#b" x="391.5" y="310.5"/>
<use href="#b" x="388.5" y="314.5"/>
<use href="#b" x="439.5" y="309.5"/>
</g>
<rect x="370" y="30" width="1" height="320" fill="#5f6712"/>
<rect x="369" y="332" width="3" height="3" fill="#5e6b12"/>
<rect x="369" y="302" width="3" height="3" fill="#5e6b12"/>
<rect x="369" y="297" width="1" height="1" fill="#5e6b12"/>
</svg></body></html>
